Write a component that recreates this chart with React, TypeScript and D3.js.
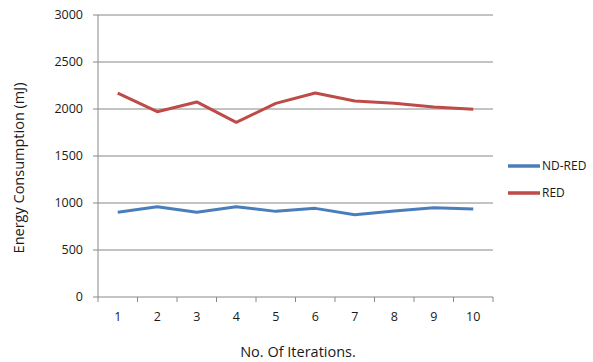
import React from "react";
import * as d3 from "d3";

const iterations = ["1", "2", "3", "4", "5", "6", "7", "8", "9", "10"];
const ndRed = [901, 961, 901, 961, 911, 943, 876, 915, 950, 936];
const red = [2170, 1971, 2075, 1858, 2060, 2170, 2085, 2060, 2022, 1997];
const yTicks = [0, 500, 1000, 1500, 2000, 2500, 3000];
const seriesNames = ["ND-RED", "RED"];
const seriesColors = ["#4A7EBB", "#BE4B48"];

const W = 593;
const H = 362;
const left = 98;
const right = 493;
const top = 15;
const bottom = 297;
const font = "'Open Sans', sans-serif";

export default function App() {
  const x = d3.scaleBand<string>().domain(iterations).range([left, right]).padding(0);
  const y = d3.scaleLinear().domain([0, 3000]).range([bottom, top]);
  const line = d3
    .line<number>()
    .x((_, i) => (x(iterations[i]) as number) + x.bandwidth() / 2)
    .y((d) => y(d));
  const series = [ndRed, red];
  const tickXs = iterations.map((c) => x(c) as number).concat([right]);

  return (
    <svg width={W} height={H} style={{ position: "absolute", left: 0, top: 0 }}>
      <rect width={W} height={H} fill="#fff" />
      {yTicks.map((t) => (
        <g key={t}>
          {t > 0 && <line x1={left} x2={right} y1={y(t)} y2={y(t)} stroke="#888" strokeWidth={1} />}
          <line x1={left - 5} x2={left} y1={y(t)} y2={y(t)} stroke="#888" strokeWidth={1} />
          <text x={83} y={y(t)} dy="0.35em" textAnchor="end" fontFamily={font} fontSize={12.5} fill="#1a1a1a">
            {t}
          </text>
        </g>
      ))}
      <line x1={left} x2={left} y1={top} y2={bottom} stroke="#888" strokeWidth={1} />
      <line x1={left} x2={right} y1={bottom} y2={bottom} stroke="#888" strokeWidth={1} />
      {tickXs.map((tx, i) => (
        <line key={i} x1={tx} x2={tx} y1={bottom} y2={bottom + 5} stroke="#888" strokeWidth={1} />
      ))}
      {iterations.map((c) => (
        <text key={c} x={(x(c) as number) + x.bandwidth() / 2} y={317} dy="0.35em" textAnchor="middle" fontFamily={font} fontSize={12.5} fill="#1a1a1a">
          {c}
        </text>
      ))}
      {series.map((s, i) => (
        <path key={i} d={line(s) as string} fill="none" stroke={seriesColors[i]} strokeWidth={3} strokeLinejoin="round" />
      ))}
      {seriesNames.map((n, i) => (
        <g key={n}>
          <line x1={508} x2={540} y1={166 + i * 27} y2={166 + i * 27} stroke={seriesColors[i]} strokeWidth={3.5} />
          <text x={542} y={166 + i * 27} dy="0.35em" fontFamily={font} fontSize={12} fill="#1a1a1a">
            {n}
          </text>
        </g>
      ))}
      <text x={298} y={352} dy="0.35em" textAnchor="middle" fontFamily={font} fontSize={14.5} fill="#1a1a1a">
        No. Of Iterations.
      </text>
      <text transform="translate(19,168) rotate(-90)" dy="0.35em" textAnchor="middle" fontFamily={font} fontSize={14.5} fill="#1a1a1a">
        Energy Consumption (mJ)
      </text>
    </svg>
  );
}
